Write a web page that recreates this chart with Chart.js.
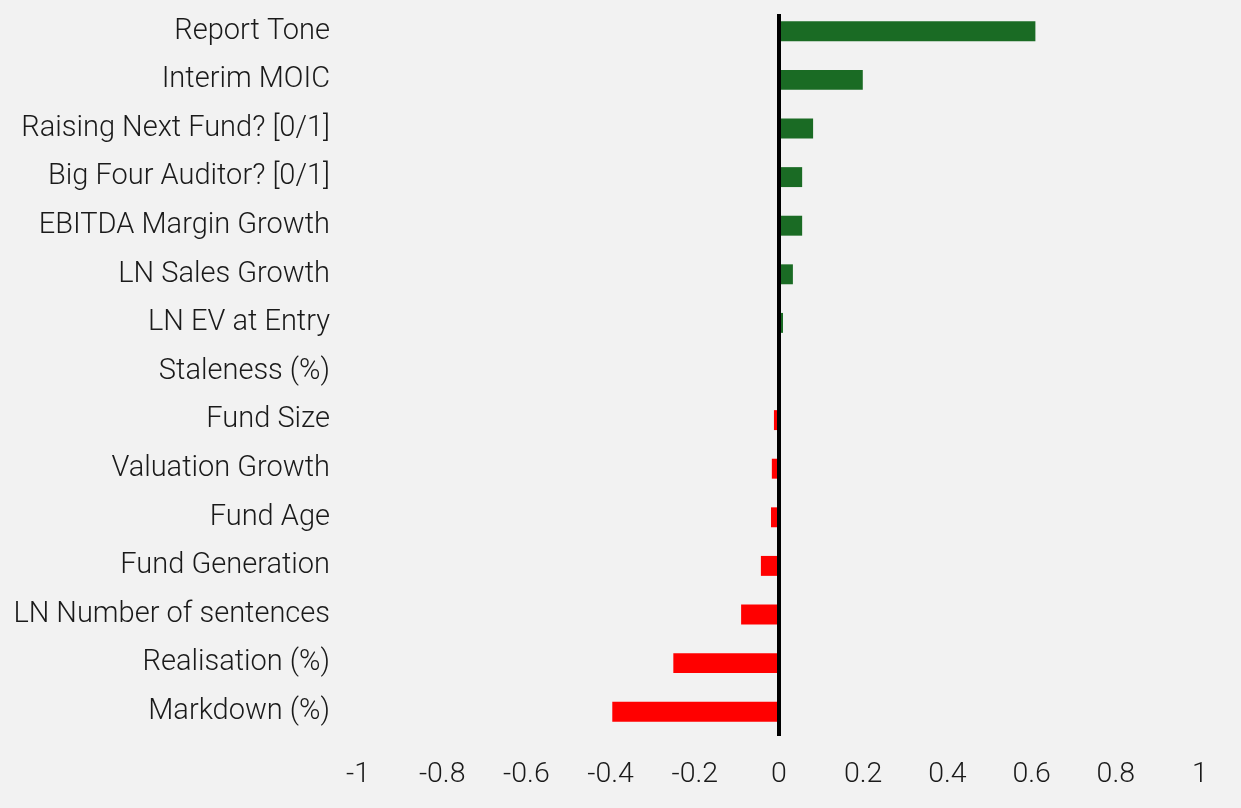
<!DOCTYPE html>
<html>
<head>
<meta charset="utf-8">
<script src="https://cdn.jsdelivr.net/npm/chart.js@4/dist/chart.umd.min.js"></script>
<style>
  html, body { margin: 0; padding: 0; background: #f2f2f2; }
  #chart { display: block; }
</style>
</head>
<body>
<canvas id="chart" width="1241" height="808"></canvas>
<script>
var labels = ['Report Tone', 'Interim MOIC', 'Raising Next Fund? [0/1]', 'Big Four Auditor? [0/1]',
    'EBITDA Margin Growth', 'LN Sales Growth', 'LN EV at Entry', 'Staleness (%)', 'Fund Size',
    'Valuation Growth', 'Fund Age', 'Fund Generation', 'LN Number of sentences',
    'Realisation (%)', 'Markdown (%)']
var values = [0.609, 0.199, 0.081, 0.055, 0.055, 0.033, 0.0095, 0.0005, -0.012,
    -0.017, -0.019, -0.043, -0.09, -0.251, -0.396]
var xTicks = [-1, -0.8, -0.6, -0.4, -0.2, 0, 0.2, 0.4, 0.6, 0.8, 1]

var green = '#1a6b24'
var red = '#ff0000'
var textColor = '#1a1a1a'

// black vertical line at zero
var zeroLine = {
    id: 'zeroLine',
    afterDatasetsDraw: function (chart) {
        var ctx = chart.ctx
        var x = chart.scales.x.getPixelForValue(0)
        ctx.save()
        ctx.strokeStyle = '#000'
        ctx.lineWidth = 4
        ctx.beginPath()
        ctx.moveTo(x, chart.chartArea.top + 7)
        ctx.lineTo(x, chart.chartArea.bottom)
        ctx.stroke()
        ctx.restore()
    }
}

new Chart(document.getElementById('chart'), {
    type: 'bar',
    data: {
        labels: labels,
        datasets: [{
            data: values,
            backgroundColor: values.map(function (v) { return v >= 0 ? green : red }),
            barPercentage: 0.41,
            categoryPercentage: 1
        }]
    },
    options: {
        indexAxis: 'y',
        responsive: false,
        animation: false,
        layout: { padding: { left: 0, right: 41, top: 7, bottom: 16 } },
        plugins: {
            legend: { display: false },
            tooltip: { enabled: false }
        },
        scales: {
            x: {
                min: -1,
                max: 1,
                afterBuildTicks: function (scale) {
                    scale.ticks = xTicks.map(function (v) { return { value: v } })
                },
                afterFit: function (scale) {
                    scale.height = 56
                    scale.paddingLeft = 0
                    scale.paddingRight = 0
                },
                grid: { display: false, drawTicks: false },
                border: { display: false },
                ticks: {
                    color: textColor,
                    font: { family: 'Roboto', weight: '300', size: 28.5 },
                    padding: 22,
                    maxRotation: 0,
                    callback: function (v) { return String(Math.round(v * 10) / 10) }
                }
            },
            y: {
                offset: true,
                afterFit: function (scale) {
                    scale.width = 358
                    scale.paddingTop = 0
                    scale.paddingBottom = 0
                },
                grid: { display: false, drawTicks: false },
                border: { display: false },
                ticks: {
                    color: textColor,
                    font: { family: 'Roboto', weight: '300', size: 29 },
                    padding: 28
                }
            }
        }
    },
    plugins: [zeroLine]
})
</script>
</body>
</html>
